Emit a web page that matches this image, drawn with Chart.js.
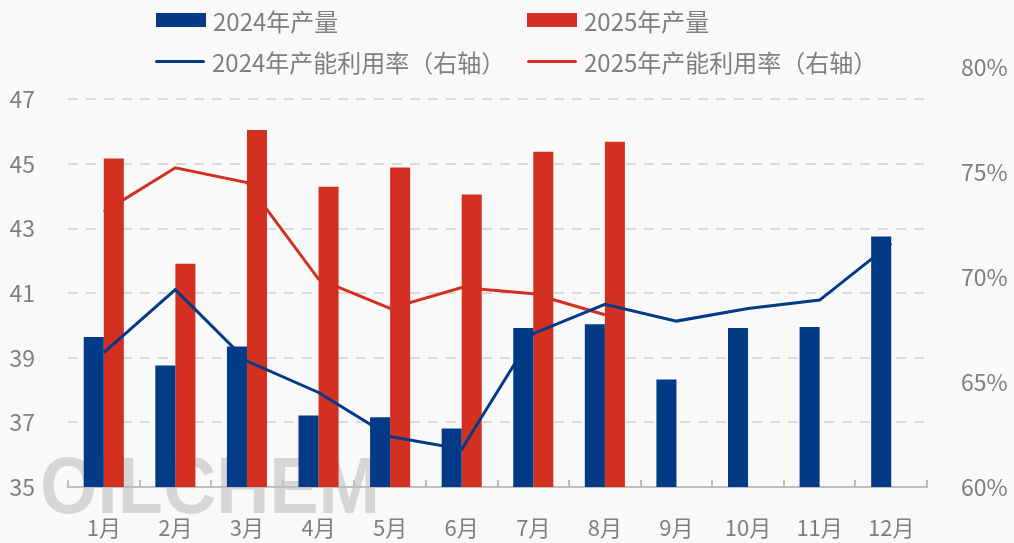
<!DOCTYPE html>
<html><head><meta charset="utf-8">
<script src="https://cdn.jsdelivr.net/npm/chart.js@4"></script>
<style>
html,body{margin:0;padding:0;background:#f9f9f9;}
#wrap{position:relative;width:1014px;height:543px;overflow:hidden;}
#c{position:absolute;left:0;top:0;}
.item{position:absolute;display:flex;align-items:center;height:30px;font-family:"Noto Sans CJK SC";font-size:24px;color:#7f7f7f;white-space:nowrap;}
.sw{width:50px;margin-right:7px;flex:none;}
</style></head><body>
<div id="wrap"><canvas id="c" width="1014" height="543"></canvas><div id="legend"></div></div>
<script>
const months = ['1月','2月','3月','4月','5月','6月','7月','8月','9月','10月','11月','12月'];
const prod2024 = [39.64, 38.76, 39.35, 37.21, 37.16, 36.81, 39.92, 40.04, 38.33, 39.92, 39.95, 42.75];
const prod2025 = [45.17, 41.91, 46.05, 44.29, 44.89, 44.05, 45.38, 45.69, null, null, null, null];
const util2024 = [66.4, 69.4, 66.0, 64.5, 62.4, 61.8, 67.3, 68.7, 67.9, 68.5, 68.9, 71.6];
const util2025 = [73.1, 75.2, 74.5, 69.9, 68.5, 69.5, 69.2, 68.2, null, null, null, null];
const leftTicks = [35, 37, 39, 41, 43, 45, 47];
const rightTicks = [60, 65, 70, 75, 80];
const seriesLabels = ['2024年产量', '2025年产量', '2024年产能利用率（右轴）', '2025年产能利用率（右轴）'];
const watermarkText = 'OILCHEM';

const BLUE = '#023a85', RED = '#d33022', GRAY = '#7f7f7f';
const FONT = '"Noto Sans CJK SC", "Noto Sans", sans-serif';

// HTML legend
const legendPos = [[156, 20, 'bar'], [527, 20, 'bar'], [155, 61, 'line'], [527, 61, 'line']];
const legendColors = [BLUE, RED, BLUE, RED];
const lg = document.getElementById('legend');
seriesLabels.forEach((lab, i) => {
  const d = document.createElement('div');
  d.className = 'item';
  d.style.left = legendPos[i][0] + 'px';
  d.style.top = (legendPos[i][1] - 15) + 'px';
  const sw = document.createElement('span');
  sw.className = 'sw';
  sw.style.background = legendColors[i];
  sw.style.height = legendPos[i][2] === 'bar' ? '14px' : '3px';
  if (legendPos[i][2] === 'line') sw.style.borderRadius = '2px';
  d.appendChild(sw);
  const t = document.createElement('span');
  t.textContent = lab;
  d.appendChild(t);
  lg.appendChild(d);
});

const watermark = {
  id: 'watermark',
  beforeDraw(chart) {
    const ctx = chart.ctx;
    ctx.save();
    ctx.font = 'bold 80px "Liberation Sans"';
    const w = ctx.measureText(watermarkText).width;
    const g = ctx.createLinearGradient(0, 455, 0, 514);
    g.addColorStop(0, '#d6d6d6');
    g.addColorStop(1, '#f1f1f1');
    ctx.fillStyle = g;
    ctx.translate(40, 513);
    ctx.scale(340 / w, 1);
    ctx.textBaseline = 'alphabetic';
    ctx.fillText(watermarkText, 0, 0);
    ctx.restore();
  }
};

new Chart(document.getElementById('c'), {
  type: 'bar',
  data: {
    labels: months,
    datasets: [
      { type: 'bar', label: seriesLabels[0], data: prod2024, backgroundColor: BLUE, yAxisID: 'y', order: 2,
        categoryPercentage: 0.56, barPercentage: 1.0 },
      { type: 'bar', label: seriesLabels[1], data: prod2025, backgroundColor: RED, yAxisID: 'y', order: 2,
        categoryPercentage: 0.56, barPercentage: 1.0 },
      { type: 'line', label: seriesLabels[2], data: util2024, borderColor: BLUE, backgroundColor: BLUE, yAxisID: 'y1',
        borderWidth: 3, pointRadius: 0, tension: 0, order: 0, spanGaps: false },
      { type: 'line', label: seriesLabels[3], data: util2025, borderColor: RED, backgroundColor: RED, yAxisID: 'y1',
        borderWidth: 3, pointRadius: 0, tension: 0, order: 1, spanGaps: false }
    ]
  },
  options: {
    responsive: false,
    animation: false,
    devicePixelRatio: 1,
    layout: { padding: { top: 67, left: 0, right: 0, bottom: 0 } },
    plugins: { legend: { display: false }, tooltip: { enabled: false } },
    scales: {
      x: {
        offset: true,
        grid: { display: true, drawOnChartArea: false, drawTicks: true, tickLength: -7, color: '#bfbfbf', lineWidth: 2, offset: true },
        border: { display: true, color: '#bfbfbf', width: 2 },
        ticks: { color: GRAY, font: { family: FONT, size: 22 }, padding: 34, maxRotation: 0 },
        afterFit(s) { s.height = 56; }
      },
      y: {
        position: 'left',
        min: 35, max: 48,
        afterBuildTicks(s) { s.ticks = leftTicks.map(v => ({ value: v })); },
        grid: { color: '#dadada', lineWidth: 2, drawTicks: false },
        border: { display: false, dash: [10, 8] },
        ticks: { color: GRAY, font: { family: FONT, size: 23 }, padding: 33 },
        afterFit(s) { s.width = 68; }
      },
      y1: {
        position: 'right',
        min: 60, max: 80,
        afterBuildTicks(s) { s.ticks = rightTicks.map(v => ({ value: v })); },
        grid: { display: false, drawTicks: false },
        border: { display: false },
        ticks: { color: GRAY, font: { family: FONT, size: 23 }, padding: 34, callback: v => v + '%' },
        afterFit(s) { s.width = 87; }
      }
    }
  },
  plugins: [watermark]
});
</script>
</body></html>
